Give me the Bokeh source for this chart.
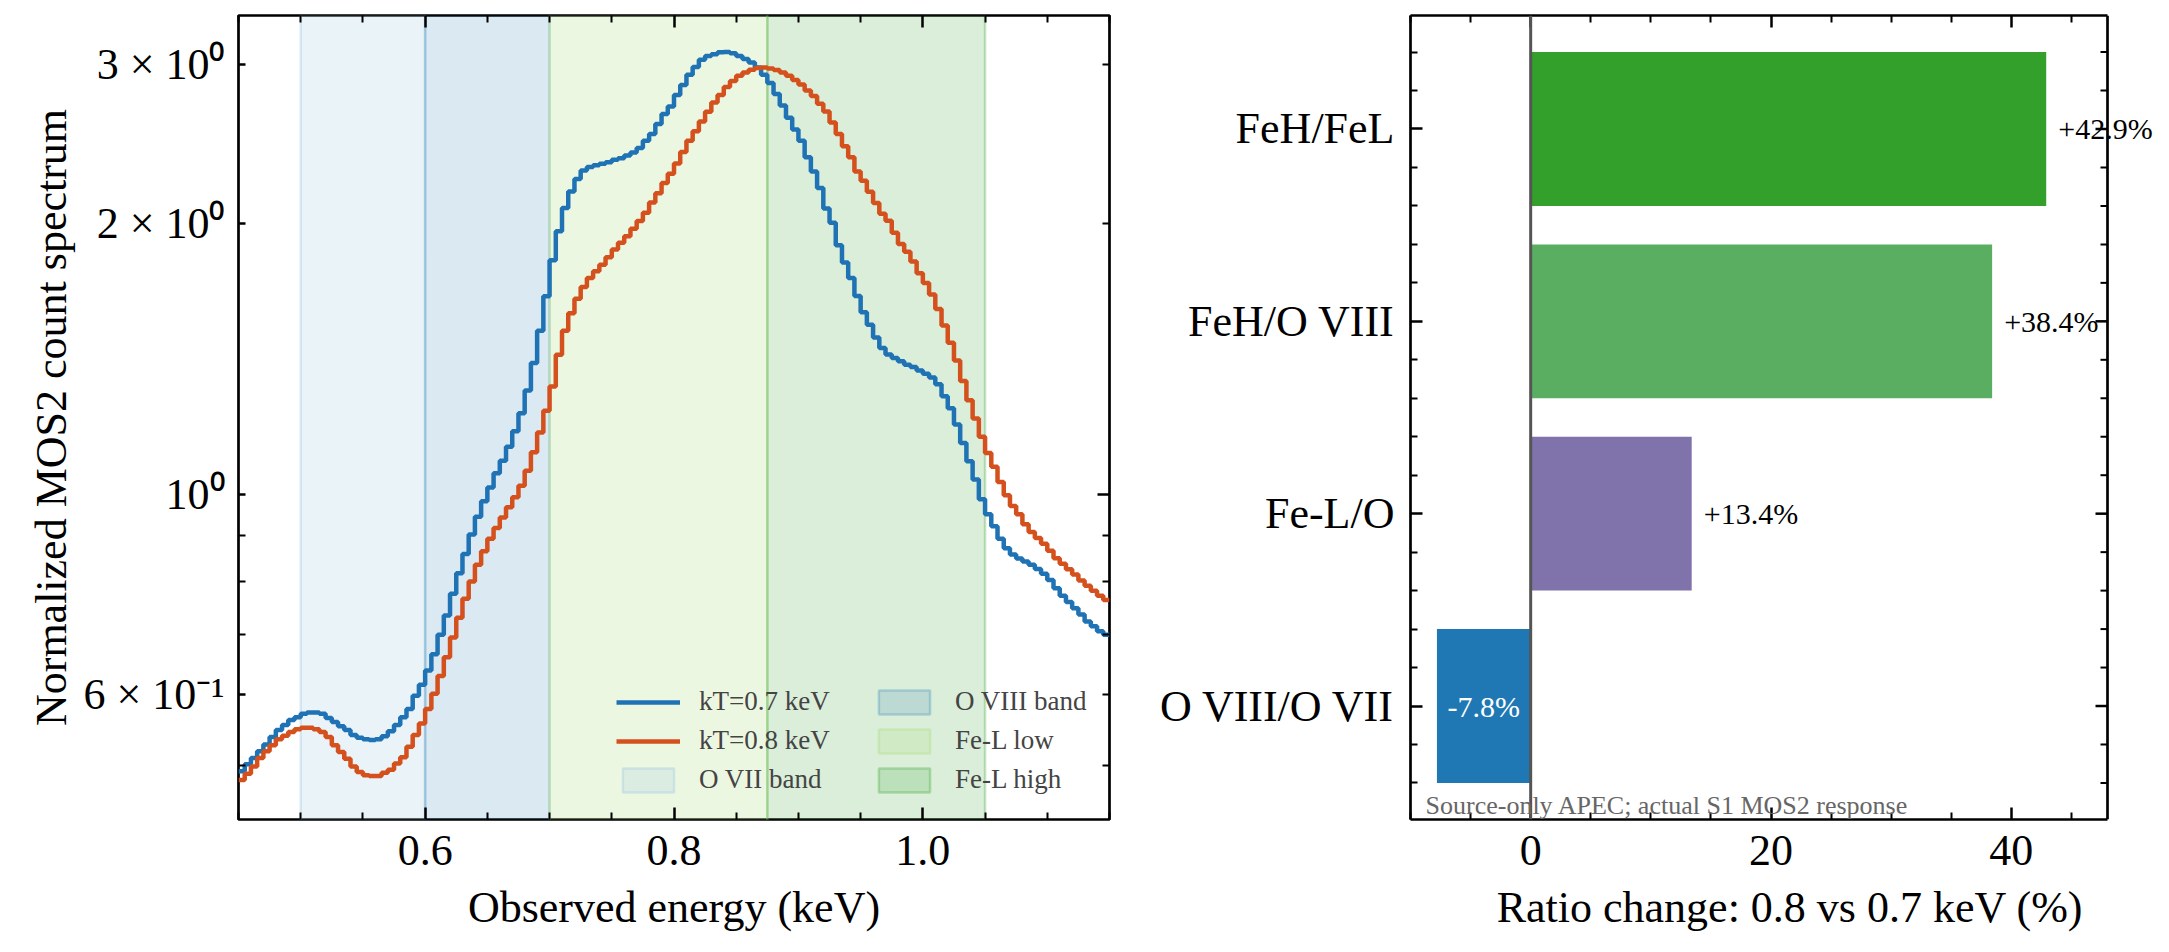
from bokeh.plotting import figure
from bokeh.models import (FixedTicker, LinearAxis, LogAxis, Range1d, Legend, LegendItem,
                          Span, Label, ColumnDataSource)
from bokeh.layouts import row
from bokeh.embed import file_html
from bokeh.resources import INLINE

FONT = "Liberation Serif"

# ---------------- data: spectra (normalized counts per 5 eV bin, 0.45-1.15 keV) -------------
bin_width = 0.005
e_start = 0.45
counts_kT07 = [
    0.493, 0.502, 0.510, 0.519, 0.528, 0.538, 0.548, 0.555, 0.562, 0.566,
    0.571, 0.573, 0.573, 0.571, 0.565, 0.559, 0.553, 0.548, 0.541, 0.537,
    0.535, 0.534, 0.535, 0.539, 0.546, 0.555, 0.566, 0.578, 0.598, 0.615,
    0.638, 0.665, 0.699, 0.734, 0.776, 0.818, 0.859, 0.903, 0.945, 0.983,
    1.018, 1.056, 1.090, 1.130, 1.176, 1.231, 1.305, 1.400, 1.520, 1.660,
    1.820, 1.960, 2.080, 2.170, 2.240, 2.290, 2.310, 2.320, 2.330, 2.339,
    2.353, 2.363, 2.380, 2.398, 2.426, 2.470, 2.513, 2.579, 2.645, 2.696,
    2.778, 2.849, 2.924, 2.983, 3.039, 3.068, 3.083, 3.097, 3.100, 3.090,
    3.068, 3.045, 3.017, 2.980, 2.924, 2.864, 2.784, 2.704, 2.621, 2.543,
    2.470, 2.368, 2.284, 2.190, 2.078, 2.004, 1.892, 1.810, 1.740, 1.661,
    1.594, 1.544, 1.494, 1.455, 1.431, 1.418, 1.406, 1.394, 1.386, 1.373,
    1.362, 1.349, 1.326, 1.286, 1.247, 1.196, 1.141, 1.089, 1.039, 0.988,
    0.951, 0.922, 0.893, 0.872, 0.858, 0.849, 0.843, 0.836, 0.827, 0.817,
    0.804, 0.787, 0.772, 0.760, 0.748, 0.736, 0.723, 0.714, 0.705, 0.699,
]
counts_kT08 = [
    0.482, 0.490, 0.499, 0.510, 0.519, 0.527, 0.535, 0.540, 0.545, 0.549,
    0.551, 0.551, 0.549, 0.545, 0.538, 0.527, 0.518, 0.509, 0.499, 0.492,
    0.488, 0.487, 0.487, 0.491, 0.495, 0.503, 0.511, 0.525, 0.541, 0.557,
    0.578, 0.601, 0.629, 0.660, 0.694, 0.730, 0.766, 0.801, 0.836, 0.865,
    0.893, 0.918, 0.943, 0.968, 0.993, 1.023, 1.063, 1.114, 1.172, 1.239,
    1.318, 1.430, 1.520, 1.590, 1.650, 1.700, 1.740, 1.770, 1.800, 1.834,
    1.871, 1.903, 1.936, 1.973, 2.012, 2.055, 2.110, 2.161, 2.218, 2.271,
    2.331, 2.401, 2.470, 2.532, 2.596, 2.660, 2.724, 2.778, 2.835, 2.879,
    2.917, 2.942, 2.963, 2.976, 2.980, 2.972, 2.961, 2.942, 2.917, 2.885,
    2.852, 2.810, 2.770, 2.715, 2.662, 2.588, 2.513, 2.436, 2.368, 2.284,
    2.230, 2.168, 2.107, 2.050, 2.014, 1.953, 1.898, 1.860, 1.814, 1.761,
    1.718, 1.668, 1.607, 1.541, 1.474, 1.409, 1.337, 1.273, 1.215, 1.159,
    1.112, 1.074, 1.033, 0.998, 0.971, 0.951, 0.927, 0.909, 0.895, 0.882,
    0.866, 0.850, 0.838, 0.826, 0.815, 0.803, 0.792, 0.782, 0.772, 0.764,
]
series_labels = ["kT=0.7 keV", "kT=0.8 keV"]
series_colors = ["#1f72b4", "#d4501c"]

band_names = ["O VII band", "O VIII band", "Fe-L low", "Fe-L high"]
band_lo = [0.50, 0.60, 0.70, 0.875]
band_hi = [0.60, 0.70, 0.875, 1.05]
band_colors = ["#a6cee3", "#1f78b4", "#b2df8a", "#33a02c"]
band_alpha = [0.25, 0.16, 0.25, 0.18]

spec_xlim = (0.45, 1.15)
spec_ylim = (0.4358, 3.403)
spec_xticks = [0.6, 0.8, 1.0]
spec_xtick_labels = ["0.6", "0.8", "1.0"]
spec_xminor = [0.45, 0.5, 0.55, 0.65, 0.7, 0.75, 0.85, 0.9, 0.95, 1.05, 1.1, 1.15]
spec_yticks = [0.6, 1.0, 2.0, 3.0]
spec_ytick_labels = ["6 \u00d7 10\u207b\u00b9", "10\u2070",
                     "2 \u00d7 10\u2070", "3 \u00d7 10\u2070"]
spec_yminor = [0.5, 0.7, 0.8, 0.9]

# ---------------- data: ratio changes ----------------
ratio_names = ["O VIII/O VII", "Fe-L/O", "FeH/O VIII", "FeH/FeL"]
ratio_change = [-7.8, 13.4, 38.4, 42.9]
ratio_colors = ["#1f78b4", "#8073ac", "#5aae61", "#33a02c"]
ratio_xlim = (-10.0, 48.0)
ratio_ylim = (-0.59, 3.59)
ratio_xticks = [0, 20, 40]
ratio_xminor = [-10, -5, 5, 10, 15, 25, 30, 35, 45]
ratio_yminor = [-0.4, -0.2, 0.2, 0.4, 0.6, 0.8, 1.2, 1.4, 1.6, 1.8,
                2.2, 2.4, 2.6, 2.8, 3.2, 3.4]
note_text = "Source-only APEC; actual S1 MOS2 response"

MAJOR_LEN = 12
MINOR_LEN = 7
FRAME_W = 2.7


def style_axis(ax, major, minor, labels=True, size="44px", standoff=10):
    ax.ticker = FixedTicker(ticks=major, minor_ticks=minor)
    ax.major_tick_in = MAJOR_LEN
    ax.major_tick_out = 0
    ax.minor_tick_in = MINOR_LEN
    ax.minor_tick_out = 0
    ax.major_tick_line_width = 2.5
    ax.minor_tick_line_width = 2
    ax.major_tick_line_color = "black"
    ax.minor_tick_line_color = "black"
    ax.axis_line_color = None
    ax.major_label_text_font = FONT
    ax.major_label_text_color = "black"
    ax.axis_label_text_font = FONT
    ax.axis_label_text_font_style = "normal"
    ax.axis_label_text_font_size = "44px"
    ax.axis_label_text_color = "black"
    if labels:
        ax.major_label_text_font_size = size
        ax.major_label_standoff = standoff
    else:
        ax.major_label_text_font_size = "1px"
        ax.major_label_text_alpha = 0
        ax.major_label_standoff = 0


# ================= left panel: spectra =================
p1 = figure(width=1138, height=952, y_axis_type="log",
            x_range=Range1d(*spec_xlim), y_range=Range1d(*spec_ylim),
            output_backend="svg", toolbar_location=None,
            min_border_left=238, min_border_right=29, min_border_top=15, min_border_bottom=133)
p1.xgrid.visible = False
p1.ygrid.visible = False
p1.outline_line_color = "black"
p1.outline_line_width = FRAME_W
p1.background_fill_color = "white"
p1.border_fill_color = "white"

band_renderers = []
for lo, hi, col, al in zip(band_lo, band_hi, band_colors, band_alpha):
    r = p1.quad(left=[lo], right=[hi], bottom=[0.1], top=[10.0],
                fill_color=col, fill_alpha=al, line_color=col, line_alpha=al * 1.6,
                line_width=2.5)
    band_renderers.append(r)

edges = [round(e_start + bin_width * i, 4) for i in range(len(counts_kT07) + 1)]
line_renderers = []
for vals, col in zip([counts_kT07, counts_kT08], series_colors):
    r = p1.step(edges, vals + [vals[-1]], mode="after", line_color=col, line_width=4.5)
    line_renderers.append(r)

style_axis(p1.xaxis[0], spec_xticks, spec_xminor, standoff=16)
p1.xaxis[0].major_label_overrides = {t: s for t, s in zip(spec_xticks, spec_xtick_labels)}
p1.xaxis[0].axis_label = "Observed energy (keV)"
p1.xaxis[0].axis_label_standoff = 15
style_axis(p1.yaxis[0], spec_yticks, spec_yminor, standoff=14)
p1.yaxis[0].major_tick_in = MINOR_LEN
p1.yaxis[0].major_label_overrides = {t: s for t, s in zip(spec_yticks, spec_ytick_labels)}
p1.yaxis[0].axis_label = "Normalized MOS2 count spectrum"
p1.yaxis[0].axis_label_standoff = 4

top1 = LinearAxis()
style_axis(top1, spec_xticks, spec_xminor, labels=False)
p1.add_layout(top1, "above")
right1 = LogAxis()
style_axis(right1, [1.0], [0.5, 0.6, 0.7, 0.8, 0.9, 2.0, 3.0], labels=False)
p1.add_layout(right1, "right")


def make_legend(items, loc):
    leg = Legend(items=items, location=loc, padding=0, margin=0,
                 border_line_alpha=0, background_fill_alpha=0,
                 label_text_font=FONT, label_text_font_size="27px",
                 label_standoff=19, glyph_width=64, glyph_height=30,
                 label_height=30, spacing=8)
    return leg


leg1 = make_legend([LegendItem(label=series_labels[0], renderers=[line_renderers[0]]),
                    LegendItem(label=series_labels[1], renderers=[line_renderers[1]]),
                    LegendItem(label=band_names[0], renderers=[band_renderers[0]])], (378, 24))
leg2 = make_legend([LegendItem(label=band_names[1], renderers=[band_renderers[1]]),
                    LegendItem(label=band_names[2], renderers=[band_renderers[2]]),
                    LegendItem(label=band_names[3], renderers=[band_renderers[3]])], (634, 24))
p1.add_layout(leg1, "center")
p1.add_layout(leg2, "center")

# ================= right panel: ratio changes =================
# The drawing frame is widened past the axes box so the value labels are not clipped;
# the visible box (ratio_xlim) is drawn with axis lines and a span.
P2_W = 1031
P2_LEFT = 272
box_px = 697
px_per_unit = box_px / (ratio_xlim[1] - ratio_xlim[0])
x_end = ratio_xlim[0] + (P2_W - P2_LEFT) / px_per_unit

p2 = figure(width=P2_W, height=952,
            x_range=Range1d(ratio_xlim[0], x_end), y_range=Range1d(*ratio_ylim),
            output_backend="svg", toolbar_location=None,
            min_border_left=P2_LEFT, min_border_right=0, min_border_top=15, min_border_bottom=133)
p2.xgrid.visible = False
p2.ygrid.visible = False
p2.outline_line_color = None

idx = list(range(len(ratio_names)))
src = ColumnDataSource(dict(y=idx, right=ratio_change, color=ratio_colors))
p2.hbar(y="y", left=0, right="right", height=0.8, fill_color="color", line_color=None, source=src)
p2.add_layout(Span(location=0, dimension="height", line_color="#555555", line_width=3))

for i, v in zip(idx, ratio_change):
    txt = ("+" if v > 0 else "") + f"{v:.1f}%"
    if v < 0:
        lab = Label(x=v / 2, y=i, text=txt, text_align="center", text_baseline="middle",
                    text_font=FONT, text_font_size="30px", text_color="white")
    else:
        lab = Label(x=v + 1.0, y=i, text=txt, text_align="left", text_baseline="middle",
                    text_font=FONT, text_font_size="30px", text_color="black")
    p2.add_layout(lab)

p2.add_layout(Label(x=-8.75, y=-0.515, text=note_text, text_align="left",
                    text_baseline="alphabetic", text_font=FONT, text_font_size="26px",
                    text_color="#666666"))

style_axis(p2.xaxis[0], ratio_xticks, ratio_xminor, standoff=16)
p2.xaxis[0].axis_label = "Ratio change: 0.8 vs 0.7 keV (%)"
p2.xaxis[0].axis_label_standoff = 15
p2.xaxis[0].bounds = ratio_xlim
p2.xaxis[0].axis_line_color = "black"
p2.xaxis[0].axis_line_width = FRAME_W
style_axis(p2.yaxis[0], idx, ratio_yminor, standoff=16)
p2.yaxis[0].major_label_overrides = {i: n for i, n in zip(idx, ratio_names)}
p2.yaxis[0].axis_line_color = "black"
p2.yaxis[0].axis_line_width = FRAME_W

top2 = LinearAxis()
style_axis(top2, ratio_xticks, ratio_xminor, labels=False)
top2.bounds = ratio_xlim
top2.axis_line_color = "black"
top2.axis_line_width = FRAME_W
p2.add_layout(top2, "above")

# right edge of the box and its inward ticks
p2.add_layout(Span(location=ratio_xlim[1], dimension="height", line_color="black",
                   line_width=FRAME_W))
maj_len = MAJOR_LEN / px_per_unit
min_len = MINOR_LEN / px_per_unit
p2.segment(x0=[ratio_xlim[1] - maj_len] * len(idx), x1=[ratio_xlim[1]] * len(idx),
           y0=idx, y1=idx, line_color="black", line_width=2.5)
p2.segment(x0=[ratio_xlim[1] - min_len] * len(ratio_yminor), x1=[ratio_xlim[1]] * len(ratio_yminor),
           y0=ratio_yminor, y1=ratio_yminor, line_color="black", line_width=2)

layout = row(p1, p2)
open("out.html", "w").write(file_html(layout, INLINE))
